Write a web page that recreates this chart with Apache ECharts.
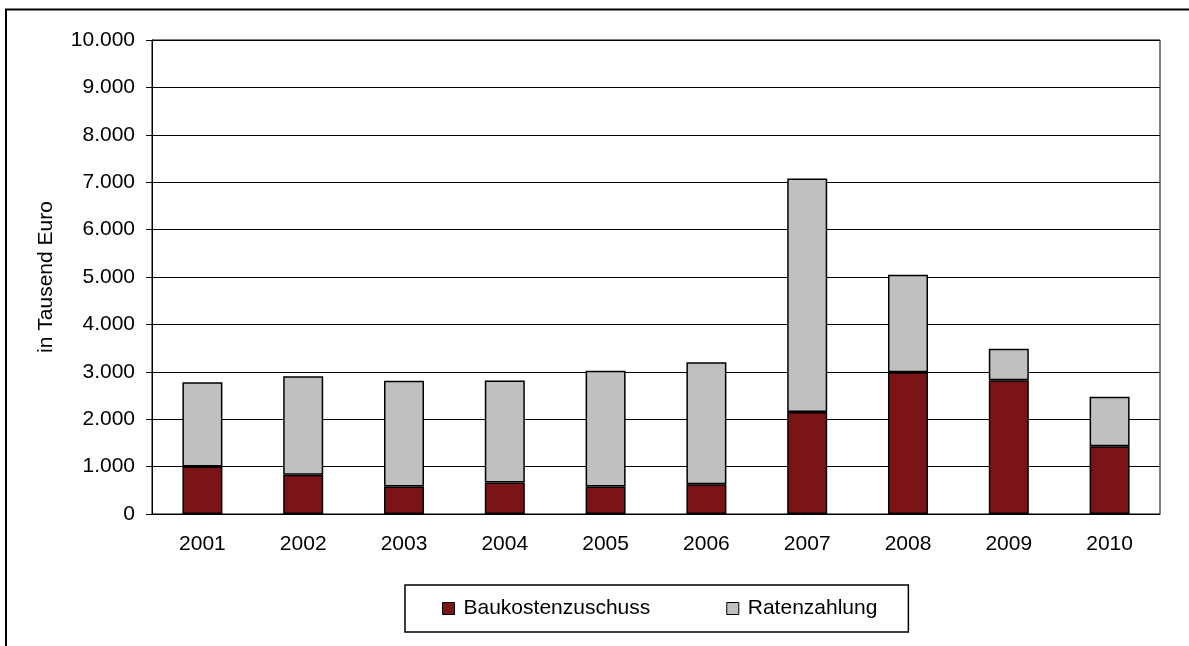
<!DOCTYPE html>
<html>
<head>
<meta charset="utf-8">
<script src="https://cdn.jsdelivr.net/npm/echarts@6/dist/echarts.min.js"></script>
<style>
  html, body { margin: 0; padding: 0; background: #fff; }
  #chart { width: 1189px; height: 646px; }
</style>
</head>
<body>
<div id="chart"></div>
<script>
const years = ['2001', '2002', '2003', '2004', '2005', '2006', '2007', '2008', '2009', '2010']
const baukostenzuschuss = [1000, 830, 580, 665, 580, 630, 2150, 2990, 2820, 1430]
const ratenzahlung = [1780, 2075, 2230, 2150, 2440, 2570, 4930, 2060, 665, 1045]

const FONT = 'Liberation Sans, Arial, sans-serif'
const RED = '#7B1416'
const GRAY = '#C0C0C0'

const chart = echarts.init(document.getElementById('chart'), null, { renderer: 'canvas' })

// 10000 -> 10.000
const fmt = v => String(v).replace(/\B(?=(\d{3})+(?!\d))/g, '.')

const option = {
  animation: false,
  textStyle: { fontFamily: FONT, color: '#000' },
  graphic: [{
    type: 'rect',
    shape: { x: 6, y: 9.5, width: 1400, height: 800 },
    style: { fill: 'none', stroke: '#000', lineWidth: 2 },
    silent: true,
  }],
  grid: { left: 152, right: 29, top: 40, bottom: 132, show: true, borderColor: '#000', borderWidth: 1 },
  legend: {
    left: 405, top: 585,
    padding: [13, 31, 13, 37],
    borderColor: '#000', borderWidth: 1.5,
    itemWidth: 12, itemHeight: 12, itemGap: 76,
    icon: 'rect',
    textStyle: { fontSize: 21, fontFamily: FONT, color: '#000', padding: [0, 0, 0, 4] },
    itemStyle: { borderColor: '#000', borderWidth: 1 },
    data: ['Baukostenzuschuss', 'Ratenzahlung'],
  },
  xAxis: {
    type: 'category',
    data: years,
    axisLine: { lineStyle: { color: '#000', width: 1 } },
    axisTick: { length: 6, lineStyle: { color: '#000' } },
    axisLabel: { fontSize: 21, color: '#000', margin: 20, fontFamily: FONT },
  },
  yAxis: {
    type: 'value',
    min: 0, max: 10000, interval: 1000,
    name: 'in Tausend Euro',
    nameLocation: 'middle',
    nameGap: 95,
    nameTextStyle: { fontSize: 21, color: '#000', fontFamily: FONT },
    axisLine: { show: true, lineStyle: { color: '#000', width: 1 } },
    axisTick: { show: true, length: 6, lineStyle: { color: '#000' } },
    axisLabel: { fontSize: 21, color: '#000', margin: 17, fontFamily: FONT, formatter: fmt },
    splitLine: { lineStyle: { color: '#000', width: 1 } },
  },
  series: [
    {
      name: 'Baukostenzuschuss', type: 'bar', stack: 'total', barWidth: 40,
      data: baukostenzuschuss,
      itemStyle: { color: RED, borderColor: '#000', borderWidth: 1.5 },
    },
    {
      name: 'Ratenzahlung', type: 'bar', stack: 'total', barWidth: 40,
      data: ratenzahlung,
      itemStyle: { color: GRAY, borderColor: '#000', borderWidth: 1.5 },
    },
  ],
}

chart.setOption(option)
</script>
</body>
</html>
